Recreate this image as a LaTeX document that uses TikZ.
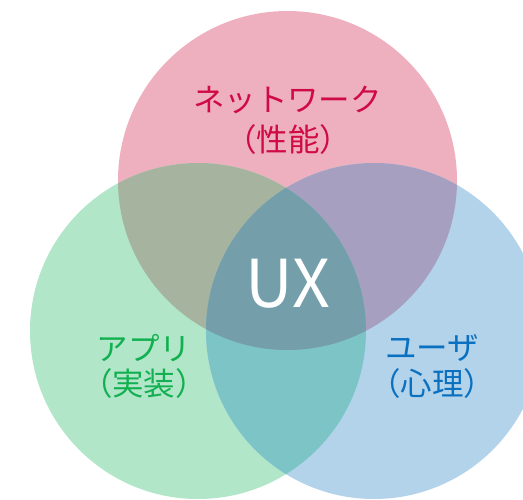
\documentclass[tikz,border=0pt]{standalone}
\usepackage{fontspec}
\setmainfont{Noto Sans CJK JP}
\definecolor{pinkfill}{RGB}{238,176,191}
\definecolor{greenfill}{RGB}{177,230,201}
\definecolor{bluefill}{RGB}{179,211,235}
\definecolor{pinkgreen}{RGB}{165,179,159}
\definecolor{pinkblue}{RGB}{166,159,192}
\definecolor{greenblue}{RGB}{125,196,198}
\definecolor{allthree}{RGB}{115,158,170}
\definecolor{redtext}{RGB}{208,10,68}
\definecolor{greentext}{RGB}{18,176,80}
\definecolor{bluetext}{RGB}{10,112,192}
\begin{document}
\begin{tikzpicture}[x=1pt,y=-1pt,
  lbl/.style={inner sep=0pt, font=\fontsize{31.5}{36}\selectfont},
  bigtext/.style={inner sep=0pt, text=white, font=\fontsize{66}{70}\selectfont}]
\useasboundingbox (0,0) rectangle (523,499);
\clip (0,0) rectangle (523,499);
% circle centres
\coordinate (pc) at (287.5,180.5);
\coordinate (gc) at (198,331);
\coordinate (bc) at (374,331);
\def\rp{169.5pt}
\def\rs{168pt}
% single circles
\fill[pinkfill] (pc) circle[radius=\rp];
\fill[greenfill] (gc) circle[radius=\rs];
\fill[bluefill] (bc) circle[radius=\rs];
% pairwise overlaps
\begin{scope}
  \clip (pc) circle[radius=\rp];
  \fill[pinkgreen] (gc) circle[radius=\rs];
  \fill[pinkblue] (bc) circle[radius=\rs];
\end{scope}
\begin{scope}
  \clip (gc) circle[radius=\rs];
  \fill[greenblue] (bc) circle[radius=\rs];
\end{scope}
% common region
\begin{scope}
  \clip (pc) circle[radius=\rp];
  \clip (gc) circle[radius=\rs];
  \fill[allthree] (bc) circle[radius=\rs];
\end{scope}
% labels
\node[lbl, text=redtext] (net1) at (287.5,100) {ネットワーク};
\node[lbl, text=redtext] (net2) at (288,140) {（性能）};
\node[lbl, text=greentext] (app1) at (144,348) {アプリ};
\node[lbl, text=greentext] (app2) at (144,384) {（実装）};
\node[lbl, text=bluetext] (usr1) at (432,348) {ユーザ};
\node[lbl, text=bluetext] (usr2) at (432,384) {（心理）};
\node[bigtext] (ux) at (288,284) {UX};
\end{tikzpicture}
\end{document}
